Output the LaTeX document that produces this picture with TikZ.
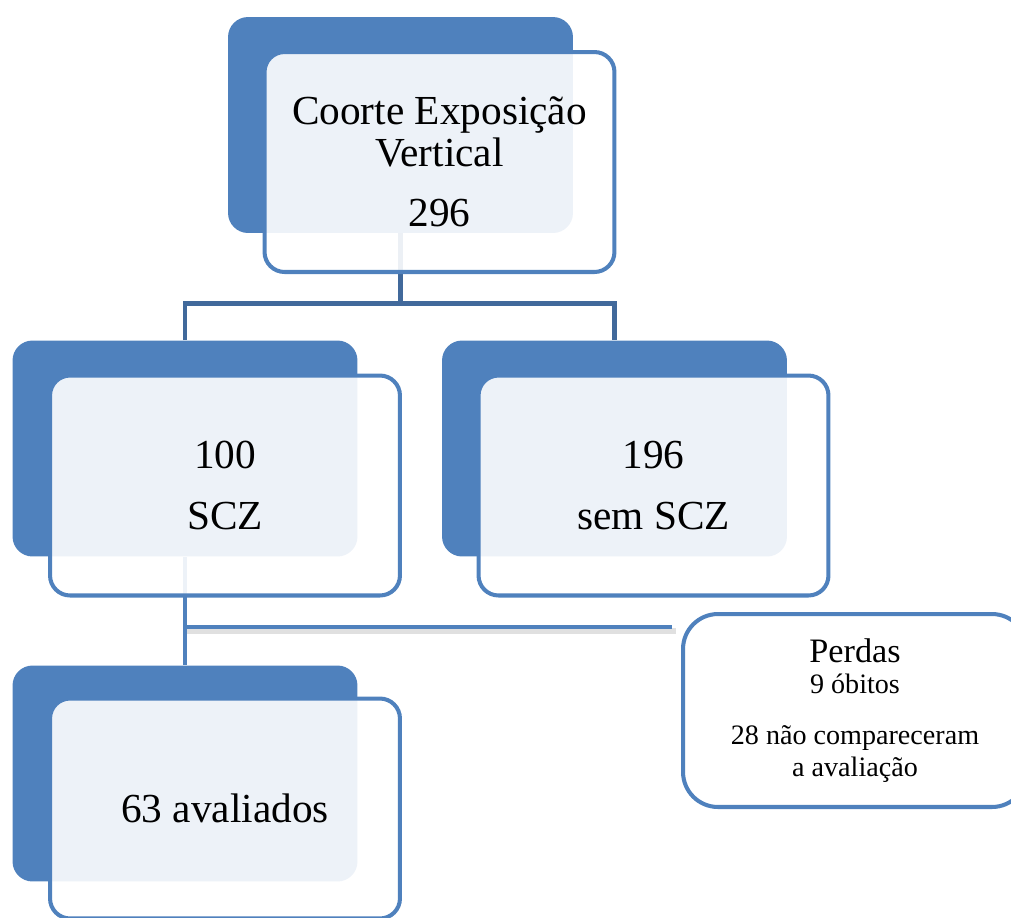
\documentclass[tikz,border=0pt]{standalone}
\usepackage{fontspec}
\setmainfont{Liberation Serif}
\usetikzlibrary{positioning}
\definecolor{smblue}{HTML}{4F81BD}
\definecolor{smdark}{HTML}{41699B}

\begin{document}
\begin{tikzpicture}[x=0.02cm, y=-0.02cm,
    back/.style={fill=smblue, rounded corners=0.4cm, minimum width=6.9cm, minimum height=4.32cm, inner sep=0pt},
    front/.style={draw=smblue, line width=2.3pt, fill=white, fill opacity=0.9, text opacity=1, rounded corners=0.4cm, minimum width=7cm, minimum height=4.4cm, align=center, font=\fontsize{23.5}{24}\selectfont},
    lossbox/.style={draw=smblue, line width=2.3pt, fill=white, rounded corners=0.7cm, minimum width=6.88cm, minimum height=3.86cm, align=center, font=\fontsize{16}{18}\selectfont},
    link/.style={line width=2.8pt}]
    \useasboundingbox (0,0) rectangle (1011,917);
    % back plates
    \node[back] (topback) at (400.5,125) {};
    \node[back] (sczback) at (185,448.5) {};
    \node[back] (semback) at (614.5,448.5) {};
    \node[back] (avback) at (185,773.5) {};
    % connectors
    \draw[link, smdark] (topback.south) -- ++(0,70) coordinate (fork);
    \draw[link, smdark] (sczback.north) |- (fork) -| (semback.north);
    \coordinate (lossrow) at (0,627);
    \draw[link, smblue] (sczback.south) -- (avback.north);
    % front boxes
    \node[front] (topbox) at ([shift={(39,37)}]topback.center) {Coorte Exposição\\Vertical\\[10pt]296};
    \node[front] (sczbox) at ([shift={(40,37)}]sczback.center) {100\\[11pt]SCZ};
    \node[front] (sembox) at ([shift={(39,37)}]semback.center) {196\\[11pt]sem SCZ};
    \node[front] (avbox) at ([shift={(40,35)}]avback.center) {63 avaliados};
    \node[lossbox] (perdas) at (855,710.5) {{\fontsize{19.5}{19.5}\selectfont Perdas}\\9 óbitos\\[11pt]28 não compareceram\\a avaliação};
    % split to losses
    \draw[line width=3pt, black, opacity=0.12] ([shift={(2,4)}]sczback.south |- lossrow) -- ([shift={(-5,4)}]perdas.west |- lossrow);
    \draw[link, smblue, shorten >=5] (sczback.south |- lossrow) -- (perdas.west |- lossrow);
\end{tikzpicture}
\end{document}
